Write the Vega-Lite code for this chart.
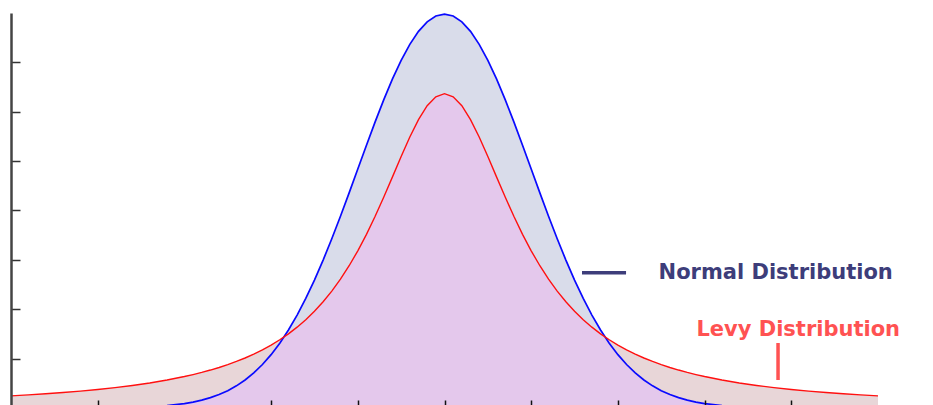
{
  "$schema": "https://vega.github.io/schema/vega-lite/v6.json",
  "width": 867,
  "height": 392,
  "autosize": {"type": "none"},
  "padding": {"left": 11, "top": 13, "right": 55, "bottom": 0},
  "config": {"view": {"stroke": null}},
  "datasets": {
    "curves": [
      {"x": -5.0, "n": 0, "l": 0.01224},
      {"x": -4.8, "n": 0, "l": 0.01324},
      {"x": -4.6, "n": 0.00001, "l": 0.01436},
      {"x": -4.4, "n": 0.00002, "l": 0.01563},
      {"x": -4.2, "n": 0.00006, "l": 0.01708},
      {"x": -4.0, "n": 0.00013, "l": 0.01872},
      {"x": -3.8, "n": 0.00029, "l": 0.02062},
      {"x": -3.6, "n": 0.00061, "l": 0.02280},
      {"x": -3.4, "n": 0.00123, "l": 0.02534},
      {"x": -3.2, "n": 0.00238, "l": 0.02832},
      {"x": -3.0, "n": 0.00443, "l": 0.03183},
      {"x": -2.9, "n": 0.00595, "l": 0.03383},
      {"x": -2.8, "n": 0.00792, "l": 0.03601},
      {"x": -2.7, "n": 0.01042, "l": 0.03840},
      {"x": -2.6, "n": 0.01358, "l": 0.04102},
      {"x": -2.5, "n": 0.01753, "l": 0.04391},
      {"x": -2.4, "n": 0.02239, "l": 0.04709},
      {"x": -2.3, "n": 0.02833, "l": 0.05061},
      {"x": -2.2, "n": 0.03547, "l": 0.05451},
      {"x": -2.1, "n": 0.04398, "l": 0.05884},
      {"x": -2.0, "n": 0.05399, "l": 0.06366},
      {"x": -1.9, "n": 0.06562, "l": 0.06905},
      {"x": -1.8, "n": 0.07895, "l": 0.07507},
      {"x": -1.7, "n": 0.09405, "l": 0.08183},
      {"x": -1.6, "n": 0.11092, "l": 0.08941},
      {"x": -1.5, "n": 0.12952, "l": 0.09794},
      {"x": -1.4, "n": 0.14973, "l": 0.10754},
      {"x": -1.3, "n": 0.17137, "l": 0.11833},
      {"x": -1.2, "n": 0.19419, "l": 0.13045},
      {"x": -1.1, "n": 0.21785, "l": 0.14403},
      {"x": -1.0, "n": 0.24197, "l": 0.15915},
      {"x": -0.9, "n": 0.26609, "l": 0.17586},
      {"x": -0.8, "n": 0.28969, "l": 0.19409},
      {"x": -0.7, "n": 0.31225, "l": 0.21363},
      {"x": -0.6, "n": 0.33322, "l": 0.23405},
      {"x": -0.5, "n": 0.35207, "l": 0.25465},
      {"x": -0.4, "n": 0.36827, "l": 0.27441},
      {"x": -0.3, "n": 0.38139, "l": 0.29203},
      {"x": -0.2, "n": 0.39104, "l": 0.30607},
      {"x": -0.1, "n": 0.39695, "l": 0.31516},
      {"x": 0.0, "n": 0.39894, "l": 0.31831},
      {"x": 0.1, "n": 0.39695, "l": 0.31516},
      {"x": 0.2, "n": 0.39104, "l": 0.30607},
      {"x": 0.3, "n": 0.38139, "l": 0.29203},
      {"x": 0.4, "n": 0.36827, "l": 0.27441},
      {"x": 0.5, "n": 0.35207, "l": 0.25465},
      {"x": 0.6, "n": 0.33322, "l": 0.23405},
      {"x": 0.7, "n": 0.31225, "l": 0.21363},
      {"x": 0.8, "n": 0.28969, "l": 0.19409},
      {"x": 0.9, "n": 0.26609, "l": 0.17586},
      {"x": 1.0, "n": 0.24197, "l": 0.15915},
      {"x": 1.1, "n": 0.21785, "l": 0.14403},
      {"x": 1.2, "n": 0.19419, "l": 0.13045},
      {"x": 1.3, "n": 0.17137, "l": 0.11833},
      {"x": 1.4, "n": 0.14973, "l": 0.10754},
      {"x": 1.5, "n": 0.12952, "l": 0.09794},
      {"x": 1.6, "n": 0.11092, "l": 0.08941},
      {"x": 1.7, "n": 0.09405, "l": 0.08183},
      {"x": 1.8, "n": 0.07895, "l": 0.07507},
      {"x": 1.9, "n": 0.06562, "l": 0.06905},
      {"x": 2.0, "n": 0.05399, "l": 0.06366},
      {"x": 2.1, "n": 0.04398, "l": 0.05884},
      {"x": 2.2, "n": 0.03547, "l": 0.05451},
      {"x": 2.3, "n": 0.02833, "l": 0.05061},
      {"x": 2.4, "n": 0.02239, "l": 0.04709},
      {"x": 2.5, "n": 0.01753, "l": 0.04391},
      {"x": 2.6, "n": 0.01358, "l": 0.04102},
      {"x": 2.7, "n": 0.01042, "l": 0.03840},
      {"x": 2.8, "n": 0.00792, "l": 0.03601},
      {"x": 2.9, "n": 0.00595, "l": 0.03383},
      {"x": 3.0, "n": 0.00443, "l": 0.03183},
      {"x": 3.2, "n": 0.00238, "l": 0.02832},
      {"x": 3.4, "n": 0.00123, "l": 0.02534},
      {"x": 3.6, "n": 0.00061, "l": 0.02280},
      {"x": 3.8, "n": 0.00029, "l": 0.02062},
      {"x": 4.0, "n": 0.00013, "l": 0.01872},
      {"x": 4.2, "n": 0.00006, "l": 0.01708},
      {"x": 4.4, "n": 0.00002, "l": 0.01563},
      {"x": 4.6, "n": 0.00001, "l": 0.01436},
      {"x": 4.8, "n": 0, "l": 0.01324},
      {"x": 5.0, "n": 0, "l": 0.01224}
    ],
    "labels": [
      {"x": 3.82, "y": 0.1367, "t": "Normal Distribution"},
      {"x": 4.08, "y": 0.079, "t": "Levy Distribution"}
    ],
    "pointers": [
      {"x": 1.586, "x2": 2.094, "y": 0.137, "y2": 0.137, "s": "Normal Distribution"},
      {"x": 3.847, "x2": 3.847, "y": 0.0658, "y2": 0.0283, "s": "Levy Distribution"}
    ]
  },
  "layer": [
    {
      "data": {"name": "curves"},
      "mark": {"type": "area", "color": "#e8d6d8", "clip": true},
      "encoding": {
        "x": {"field": "x", "type": "quantitative", "scale": {"domain": [-5, 5], "nice": false, "zero": false},
          "axis": {"values": [-4, -2, -1, 0, 1, 2, 3, 4], "labels": false, "title": null, "domain": false, "grid": false, "tickSize": -5, "tickColor": "#111111", "tickWidth": 1.5, "zindex": 1}},
        "y": {"field": "l", "type": "quantitative", "scale": {"domain": [0.003, 0.4], "nice": false, "zero": false},
          "axis": {"values": [0.05, 0.1, 0.15, 0.2, 0.25, 0.3, 0.35], "labels": false, "title": null, "grid": false, "domainColor": "#444444", "domainWidth": 2.5, "tickSize": -9, "tickColor": "#333333", "tickWidth": 1.5, "zindex": 1}},
        "y2": {"datum": 0}
      }
    },
    {
      "data": {"name": "curves"},
      "mark": {"type": "area", "color": "#d9dcea", "clip": true},
      "encoding": {
        "x": {"field": "x", "type": "quantitative"},
        "y": {"field": "n", "type": "quantitative"},
        "y2": {"datum": 0}
      }
    },
    {
      "data": {"name": "curves"},
      "transform": [
        {"fold": ["n", "l"], "as": ["k", "v"]},
        {"aggregate": [{"op": "min", "field": "v", "as": "m"}], "groupby": ["x"]}
      ],
      "mark": {"type": "area", "color": "#e4c8ec", "clip": true},
      "encoding": {
        "x": {"field": "x", "type": "quantitative"},
        "y": {"field": "m", "type": "quantitative"},
        "y2": {"datum": 0}
      }
    },
    {
      "data": {"name": "curves"},
      "mark": {"type": "line", "color": "#0a0aff", "strokeWidth": 1.7, "clip": true},
      "encoding": {
        "x": {"field": "x", "type": "quantitative"},
        "y": {"field": "n", "type": "quantitative"}
      }
    },
    {
      "data": {"name": "curves"},
      "mark": {"type": "line", "color": "#ff1010", "strokeWidth": 1.4, "clip": true},
      "encoding": {
        "x": {"field": "x", "type": "quantitative"},
        "y": {"field": "l", "type": "quantitative"}
      }
    },
    {
      "data": {"name": "pointers"},
      "mark": {"type": "rule", "strokeWidth": 3.5},
      "encoding": {
        "x": {"field": "x", "type": "quantitative"},
        "x2": {"field": "x2"},
        "y": {"field": "y", "type": "quantitative"},
        "y2": {"field": "y2"},
        "color": {"field": "s", "type": "nominal", "scale": {"domain": ["Normal Distribution", "Levy Distribution"], "range": ["#3d3d7a", "#ff5252"]}, "legend": null}
      }
    },
    {
      "data": {"name": "labels"},
      "mark": {"type": "text", "font": "DejaVu Sans", "fontWeight": "bold", "fontSize": 21, "align": "center", "baseline": "middle"},
      "encoding": {
        "x": {"field": "x", "type": "quantitative"},
        "y": {"field": "y", "type": "quantitative"},
        "text": {"field": "t"},
        "color": {"field": "t", "type": "nominal", "scale": {"domain": ["Normal Distribution", "Levy Distribution"], "range": ["#3d3d7a", "#ff5252"]}, "legend": null}
      }
    }
  ]
}
